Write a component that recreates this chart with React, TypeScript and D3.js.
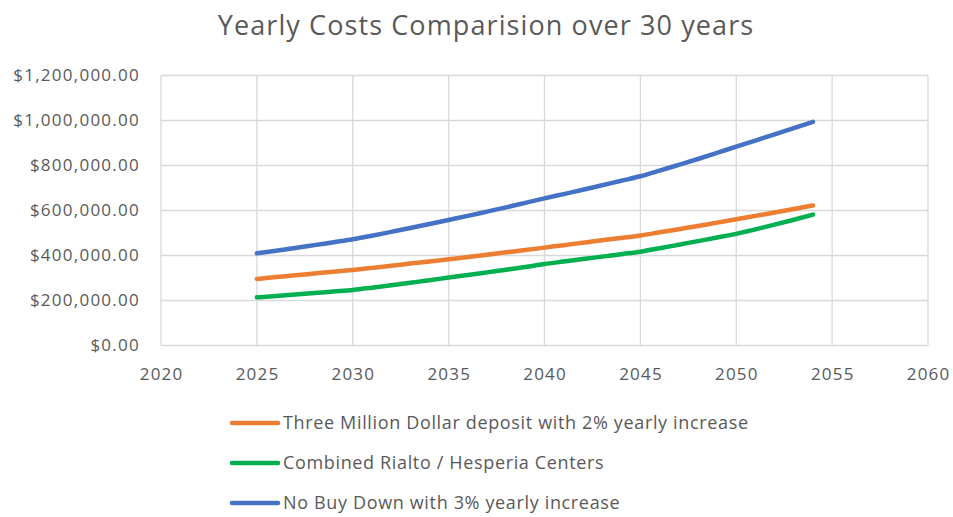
import React from "react";
import * as d3 from "d3";

const years = d3.range(2025, 2055);
const threeMillion = [296, 304, 312, 320, 328, 336, 345, 354, 364, 373, 383, 393, 403, 414, 424, 435, 446, 457, 468, 478, 489, 503, 517, 531, 546, 561, 576, 591, 607, 622].map((v) => v * 1000);
const combined = [214, 220, 227, 233, 240, 247, 257, 268, 279, 290, 302, 313, 325, 337, 349, 362, 373, 384, 395, 406, 417, 432, 448, 464, 480, 496, 516, 537, 559, 582].map((v) => v * 1000);
const noBuyDown = [410, 421, 433, 446, 459, 472, 488, 505, 522, 540, 558, 576, 595, 614, 634, 654, 673, 692, 712, 732, 752, 777, 803, 829, 856, 884, 911, 938, 966, 994].map((v) => v * 1000);

const xTicks = [2020, 2025, 2030, 2035, 2040, 2045, 2050, 2055, 2060];
const yTicks = [0, 200000, 400000, 600000, 800000, 1000000, 1200000];

const seriesNames = [
  "Three Million Dollar deposit with 2% yearly increase",
  "Combined Rialto / Hesperia Centers",
  "No Buy Down with 3% yearly increase",
];
const seriesData = [threeMillion, combined, noBuyDown];
const colors = ["#ED7D31", "#00B050", "#4472C4"];

const W = 953;
const H = 517;
const FONT = "'Open Sans', 'Noto Sans', sans-serif";

export default function App() {
  const x = d3.scaleLinear().domain([2020, 2060]).range([161, 928]);
  const y = d3.scaleLinear().domain([0, 1200000]).range([345.5, 75.5]);
  const line = d3
    .line<number>()
    .x((_, i) => x(years[i]))
    .y((d) => y(d))
    .curve(d3.curveMonotoneX);
  const fmt = (v: number) => "$" + d3.format(",.2f")(v);
  const textColor = "#595959";
  const grid = "#D9D9D9";

  return (
    <svg
      width={W}
      height={H}
      style={{ position: "absolute", left: 0, top: 0, background: "#fff" }}
      fontFamily={FONT}
    >
      <rect width={W} height={H} fill="#fff" />
      <text x={486} y={35} textAnchor="middle" fontSize={27} letterSpacing={1.1} fill={textColor}>
        Yearly Costs Comparision over 30 years
      </text>
      {yTicks.map((t) => (
        <g key={"y" + t}>
          <line x1={161} x2={928} y1={y(t)} y2={y(t)} stroke={grid} strokeWidth={1.3} />
          <text x={140} y={y(t)} dy="0.35em" textAnchor="end" fontSize={17} letterSpacing={1.25} fill={textColor}>
            {fmt(t)}
          </text>
        </g>
      ))}
      {xTicks.map((t) => (
        <g key={"x" + t}>
          <line x1={x(t)} x2={x(t)} y1={y(0)} y2={y(1200000)} stroke={grid} strokeWidth={1.3} />
          <text x={x(t) + 0.6} y={374} dy="0.35em" textAnchor="middle" fontSize={17} letterSpacing={1.2} fill={textColor}>
            {t}
          </text>
        </g>
      ))}
      {seriesData.map((d, i) => (
        <path
          key={"s" + i}
          d={line(d) || ""}
          fill="none"
          stroke={colors[i]}
          strokeWidth={4.5}
          strokeLinecap="round"
          strokeLinejoin="round"
        />
      ))}
      {seriesNames.map((n, i) => (
        <g key={"l" + i} transform={`translate(0, ${423 + i * 40})`}>
          <line x1={232} x2={278} y1={0} y2={0} stroke={colors[i]} strokeWidth={4.5} strokeLinecap="round" />
          <text x={283} y={0} dy="0.35em" fontSize={18} letterSpacing={0.65} fill={textColor}>
            {n}
          </text>
        </g>
      ))}
    </svg>
  );
}
